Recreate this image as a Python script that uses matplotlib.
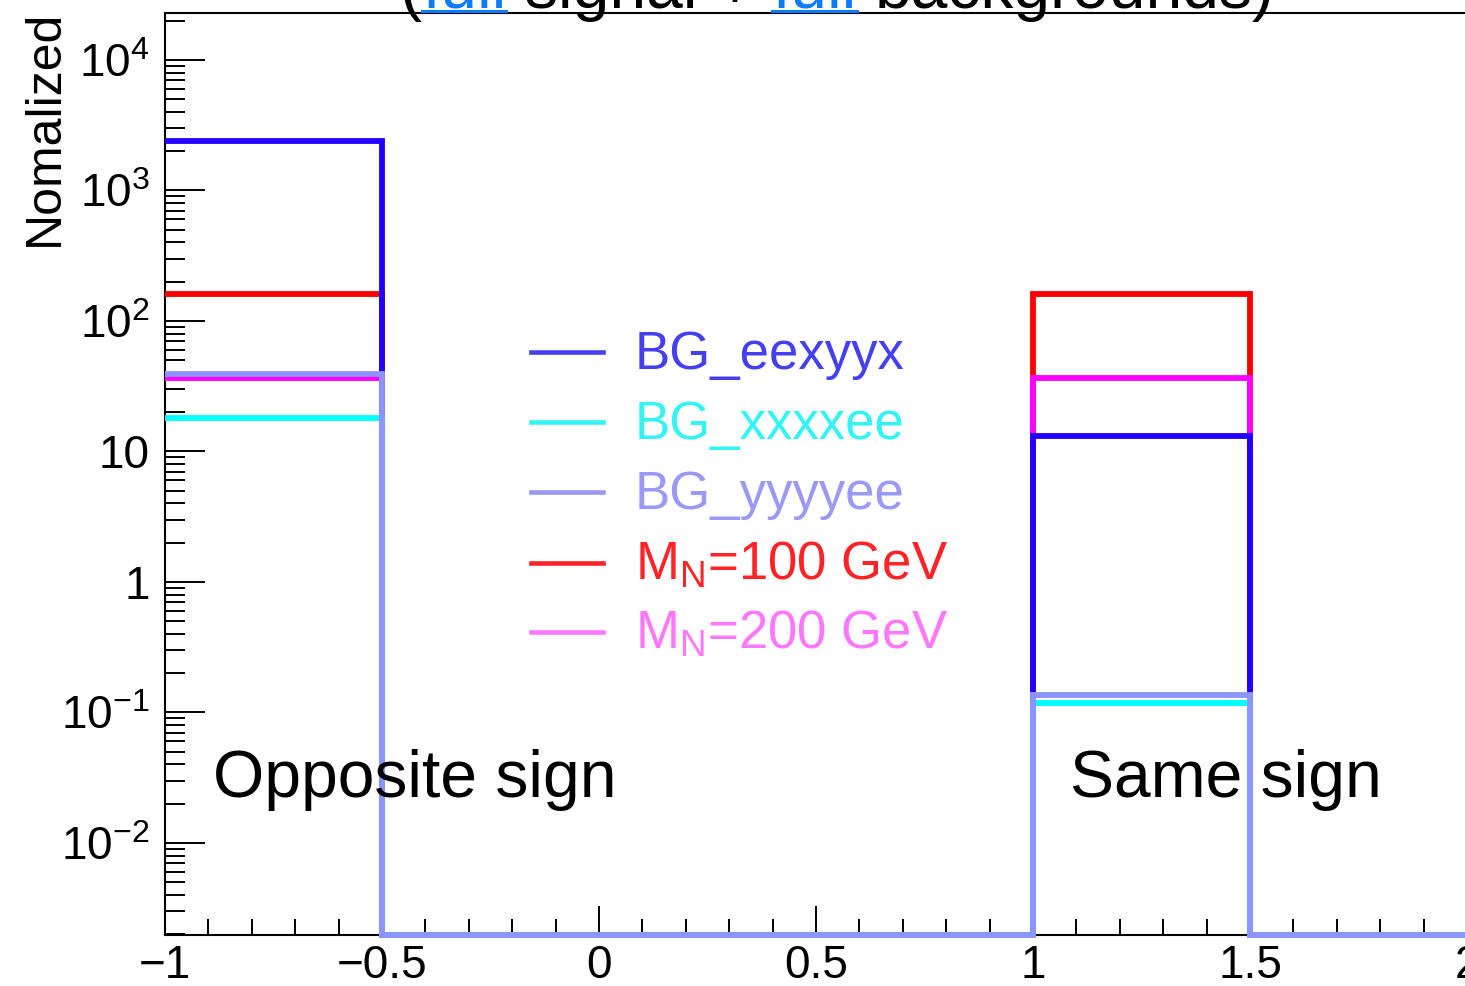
import numpy as np
import matplotlib
matplotlib.use('Agg')
import matplotlib.pyplot as plt
from matplotlib.ticker import MultipleLocator, LogLocator, FuncFormatter, NullFormatter
from matplotlib.lines import Line2D

plt.rcParams['font.family'] = ['Liberation Sans', 'DejaVu Sans']
plt.rcParams['mathtext.fontset'] = 'custom'
plt.rcParams['mathtext.rm'] = 'Liberation Sans'
plt.rcParams['mathtext.it'] = 'Liberation Sans:italic'
plt.rcParams['mathtext.bf'] = 'Liberation Sans:bold'

# ---------------- data ----------------
bin_edges = [-1.0, -0.5, 0.0, 0.5, 1.0, 1.5, 2.0]
bg_eexyyx = [2400.0, 0, 0, 0, 13.1, 0]
bg_xxxxee = [18.1, 0, 0, 0, 0.118, 0]
bg_yyyyee = [39.0, 0, 0, 0, 0.136, 0]
mn_100 = [161.0, 0, 0, 0, 161.0, 0]
mn_200 = [36.6, 0, 0, 0, 36.6, 0]

legend_labels = ['BG_eexyyx', 'BG_xxxxee', 'BG_yyyyee',
                 r'M$_{\mathregular{N}}$=100 GeV', r'M$_{\mathregular{N}}$=200 GeV']
region_labels = ['Opposite sign', 'Same sign']
y_label = 'Nomalized'
title_pieces = ['(', 'full', ' signal +', ' full', ' backgrounds)']

# ---------------- styles ----------------
hist_colors = {'BG_eexyyx': '#2200ff', 'BG_xxxxee': '#00ffff', 'BG_yyyyee': '#8c95ff',
               'M100': '#ff0000', 'M200': '#ff00ff'}
legend_colors = ['#4440f0', '#33f4f4', '#9a9af6', '#ff2226', '#ff77ff']
title_colors = ['black', '#0a7cff', 'black', '#0a7cff', 'black']

W, H = 1465, 986
fig = plt.figure(figsize=(W / 100, H / 100), dpi=100)
ax = fig.add_axes([165 / W, 1 - 935 / H, (1467 - 165) / W, (935 - 13) / H])
ax.set_xlim(-1, 2)
ax.set_yscale('log')
ax.set_ylim(10 ** -2.705, 10 ** 4.36)
ymin = ax.get_ylim()[0]

series = [(mn_100, 'M100'), (mn_200, 'M200'), (bg_eexyyx, 'BG_eexyyx'),
          (bg_xxxxee, 'BG_xxxxee'), (bg_yyyyee, 'BG_yyyyee')]
for vals, key in series:
    v = np.asarray(vals, dtype=float)
    v = np.where(v > 0, v, ymin)
    ax.stairs(v, bin_edges, baseline=None, color=hist_colors[key], lw=4.2,
              clip_on=False, zorder=3)

# spines
for s in ['left', 'bottom', 'top', 'right']:
    ax.spines[s].set_linewidth(1.5)

# ticks
ax.xaxis.set_major_locator(MultipleLocator(0.5))
ax.xaxis.set_minor_locator(MultipleLocator(0.1))
ax.xaxis.set_major_formatter(FuncFormatter(lambda v, p: ('%g' % v).replace('-', '\u2212')))
ax.yaxis.set_major_locator(LogLocator(base=10, numticks=20))
ax.yaxis.set_minor_locator(LogLocator(base=10, subs=np.arange(2, 10), numticks=20))
ax.yaxis.set_minor_formatter(NullFormatter())


def yfmt(v, pos):
    e = int(round(np.log10(v)))
    if e == 0:
        return '1'
    if e == 1:
        return '10'
    return r'$\mathregular{10^{%d}}$' % e


ax.yaxis.set_major_formatter(FuncFormatter(yfmt))
ax.tick_params(axis='x', which='major', direction='in', length=21, width=1.4,
               labelsize=33, pad=6.5, top=False)
ax.tick_params(axis='x', which='minor', direction='in', length=11.5, width=1.4, top=False)
ax.tick_params(axis='y', which='major', direction='in', length=29, width=1.4,
               labelsize=33, pad=11, right=False)
ax.tick_params(axis='y', which='minor', direction='in', length=14.5, width=1.4, right=False)

# y label
fig.text(22 / W, 1 - 10 / H, y_label, rotation=90, fontsize=36, ha='left', va='top')

# region labels
fig.text(213 / W, 1 - 797 / H, region_labels[0], fontsize=47.5, ha='left', va='baseline')
fig.text(1070 / W, 1 - 797 / H, region_labels[1], fontsize=47.5, ha='left', va='baseline')

# legend (manual, no frame)
leg_y = [352, 422, 492, 563, 632]
for lab, col, yy in zip(legend_labels, legend_colors, leg_y):
    fig.add_artist(Line2D([531 / W, 603 / W], [1 - yy / H] * 2, color=col, lw=3.3,
                          transform=fig.transFigure))
    fig.text(635 / W, 1 - (yy + 17) / H, lab, color=col, fontsize=38,
             ha='left', va='baseline')

# title (mostly cut off at top)
renderer = fig.canvas.get_renderer()
tfs = 47.5


def twidth(s):
    t = fig.text(0, 0, s + 'l', fontsize=tfs)
    w = t.get_window_extent(renderer).width
    t.remove()
    t = fig.text(0, 0, 'l', fontsize=tfs)
    w0 = t.get_window_extent(renderer).width
    t.remove()
    return w - w0


x0 = 400
base_y = 8
prefix = ''
for piece, col in zip(title_pieces, title_colors):
    lead = len(piece) - len(piece.lstrip(' '))
    body = piece.lstrip(' ')
    xs_body = x0 + twidth(prefix + ' ' * lead) if (prefix or lead) else x0
    fig.text(xs_body / W, 1 - base_y / H, body, fontsize=tfs, color=col,
             ha='left', va='baseline')
    if col != 'black':
        wb = twidth(body)
        fig.add_artist(Line2D([xs_body / W, (xs_body + wb) / W], [1 - 11 / H] * 2,
                              color=col, lw=2.2, transform=fig.transFigure))
    prefix += piece

fig.savefig('out.png', dpi=100)
